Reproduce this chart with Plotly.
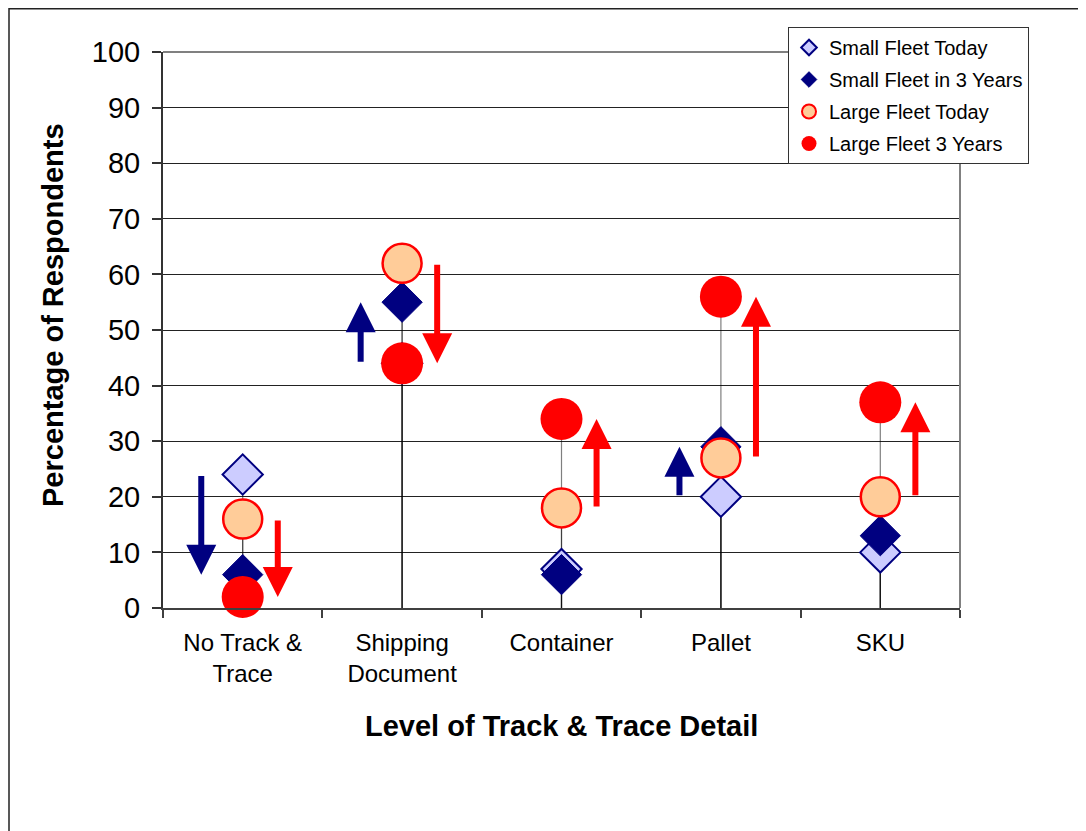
import plotly.graph_objects as go

# ---------------- data ----------------
categories = ["No Track &<br>Trace", "Shipping<br>Document", "Container", "Pallet", "SKU"]
small_today = [24, 44, 7, 20, 10]
small_3yr = [6, 55, 6, 29, 13]
large_today = [16, 62, 18, 27, 20]
large_3yr = [2, 44, 34, 56, 37]
small_arrow = [True, True, False, True, False]
large_arrow = [True, True, True, True, True]
y_ticks = list(range(0, 101, 10))
series_names = ["Small Fleet Today", "Small Fleet in 3 Years", "Large Fleet Today", "Large Fleet 3 Years"]

# ---------------- styles ----------------
NAVY = "#000080"
RED = "#FF0000"
FONT = "Liberation Sans, Arial, sans-serif"
styles = [
    dict(symbol="diamond", size=31, color="#CCCCFF", line=dict(color=NAVY, width=2)),
    dict(symbol="diamond", size=31, color=NAVY, line=dict(color=NAVY, width=1)),
    dict(symbol="circle", size=39, color="#FFCC99", line=dict(color=RED, width=2.5)),
    dict(symbol="circle", size=42, color=RED, line=dict(color=RED, width=0)),
]
legend_styles = [
    dict(symbol="diamond", size=12, color="#CCCCFF", line=dict(color=NAVY, width=2)),
    dict(symbol="diamond", size=12, color=NAVY, line=dict(color=NAVY, width=1)),
    dict(symbol="circle", size=14, color="#FFCC99", line=dict(color=RED, width=2)),
    dict(symbol="circle", size=15, color=RED, line=dict(color=RED, width=0)),
]
series = [small_today, small_3yr, large_today, large_3yr]
x = list(range(len(categories)))

fig = go.Figure()

# drop lines (drawn first, below all markers)
for vals in series:
    fig.add_trace(go.Scatter(
        x=x, y=vals, mode="markers", marker=dict(size=1, opacity=0),
        error_y=dict(type="data", symmetric=False, array=[0] * len(vals), arrayminus=vals,
                     width=0, thickness=1.2, color="rgba(0,0,0,0.5)"),
        showlegend=False, hoverinfo="skip", cliponaxis=False))

# markers
for name, vals, st in zip(series_names, series, styles):
    fig.add_trace(go.Scatter(x=x, y=vals, mode="markers", name=name, marker=st,
                             showlegend=False, cliponaxis=False))

# legend-only entries
for name, st in zip(series_names, legend_styles):
    fig.add_trace(go.Scatter(x=[None], y=[None], mode="markers", name=name, marker=st,
                             legendgroup=name, showlegend=True))

# arrows from today's value to the 3-year value
annotations = []
BLUE_OFF, RED_OFF = -0.26, 0.22
for i in x:
    if small_arrow[i]:
        annotations.append(dict(x=i + BLUE_OFF, y=small_3yr[i], ax=i + BLUE_OFF, ay=small_today[i],
                                xref="x", yref="y", axref="x", ayref="y", text="", showarrow=True,
                                arrowhead=2, arrowsize=1, arrowwidth=6, arrowcolor=NAVY))
    if large_arrow[i]:
        annotations.append(dict(x=i + RED_OFF, y=large_3yr[i], ax=i + RED_OFF, ay=large_today[i],
                                xref="x", yref="y", axref="x", ayref="y", text="", showarrow=True,
                                arrowhead=2, arrowsize=1, arrowwidth=6, arrowcolor=RED))

# axis titles
annotations.append(dict(text="<b>Percentage of Respondents</b>", textangle=-90, xref="paper", yref="paper",
                        x=(53 - 163) / 797, y=(608 - 315) / 556, xanchor="center", yanchor="middle",
                        showarrow=False, font=dict(family=FONT, size=29, color="#000")))
annotations.append(dict(text="<b>Level of Track & Trace Detail</b>", xref="paper", yref="paper",
                        x=0.5, y=(608 - 726) / 556, xanchor="center", yanchor="middle",
                        showarrow=False, font=dict(family=FONT, size=29, color="#000")))

shapes = [
    # outer chart border (left and top edges visible)
    dict(type="rect", xref="paper", yref="paper", x0=(9 - 163) / 797, x1=2, y0=-2, y1=(608 - 8.8) / 556,
         line=dict(color="#222", width=1.5), fillcolor="rgba(0,0,0,0)", layer="below"),
    # grey plot-area border (top and right)
    dict(type="path", xref="paper", yref="paper", path="M 0,1 L 1,1 L 1,0",
         line=dict(color="#808080", width=2), layer="above"),
]

# the page body adds an 8px offset; margins compensate so the plot lands at 163..960 x 52..608
fig.update_layout(
    width=1086, height=831,
    margin=dict(l=155, r=134, t=44, b=231),
    paper_bgcolor="white", plot_bgcolor="white",
    font=dict(family=FONT, color="#000"),
    showlegend=True,
    legend=dict(x=(788 - 163) / 797, y=(608 - 27) / 556, xanchor="left", yanchor="top",
                bgcolor="white", bordercolor="#333", borderwidth=1,
                font=dict(family=FONT, size=20, color="#000"), tracegroupgap=3,
                traceorder="grouped"),
    annotations=annotations,
    shapes=shapes,
)
fig.update_xaxes(range=[-0.5, len(categories) - 0.5], tickmode="array", tickvals=x, ticktext=categories,
                 ticks="", showgrid=False, zeroline=False, showline=True, linecolor="#404040", linewidth=2,
                 tickfont=dict(family=FONT, size=24, color="#000"), ticklabelstandoff=12,
                 minor=dict(tick0=-0.5, dtick=1, ticks="outside", ticklen=8, tickcolor="#404040",
                            tickwidth=1.5, showgrid=False))
fig.update_yaxes(range=[0, 100], tickmode="array", tickvals=y_ticks, ticks="outside", ticklen=9,
                 tickcolor="#333", tickwidth=1.5, showgrid=True, gridcolor="#222", gridwidth=1,
                 zeroline=False, showline=True, linecolor="#333", linewidth=2,
                 tickfont=dict(family=FONT, size=29, color="#000"), ticklabelstandoff=6)

fig.write_html("out.html")
